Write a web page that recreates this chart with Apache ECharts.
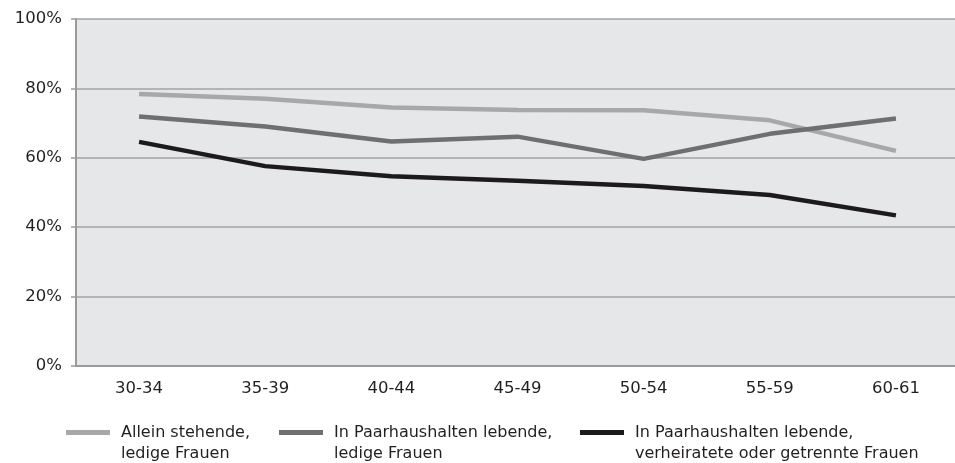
<!DOCTYPE html>
<html>
<head>
<meta charset="utf-8">
<script src="https://cdn.jsdelivr.net/npm/echarts@6/dist/echarts.min.js"></script>
<style>
  html, body { margin: 0; padding: 0; background: #ffffff; }
  #chart { width: 955px; height: 463px; }
</style>
</head>
<body>
<div id="chart"></div>
<script>
// Altersgruppen
const categories = ['30-34', '35-39', '40-44', '45-49', '50-54', '55-59', '60-61'];

// Anteile in Prozent
const alleinStehendLedig = [78.4, 77.0, 74.5, 73.8, 73.7, 70.8, 62.0];
const paarLedig = [71.9, 69.0, 64.7, 66.1, 59.7, 66.9, 71.3];
const paarVerheiratet = [64.6, 57.6, 54.7, 53.4, 51.9, 49.3, 43.4];

const seriesNames = [
  'Allein stehende,\nledige Frauen',
  'In Paarhaushalten lebende,\nledige Frauen',
  'In Paarhaushalten lebende,\nverheiratete oder getrennte Frauen'
];
const seriesData = [alleinStehendLedig, paarLedig, paarVerheiratet];
const seriesColors = ['#a7a8aa', '#6f6f70', '#1d1a1b'];

const yTicks = [0, 20, 40, 60, 80, 100];

const fontFamily = '"DejaVu Sans", "Open Sans", sans-serif';
const textColor = '#231f20';
const chart = echarts.init(document.getElementById('chart'), null, { renderer: 'canvas' });

const legendLefts = [66, 279, 580];

chart.setOption({
  animation: false,
  grid: {
    left: 76, right: -4, top: 19, bottom: 97,
    outerBoundsMode: 'none',
    containLabel: false,
    show: true, backgroundColor: '#e6e7e8', borderWidth: 0
  },
  legend: seriesNames.map((name, i) => ({
    data: [name],
    left: legendLefts[i],
    top: 401,
    padding: 0,
    orient: 'horizontal',
    icon: 'rect',
    itemWidth: 44,
    itemHeight: 5,
    itemGap: 11,
    selectedMode: false,
    // blank leading line keeps the first text line level with the icon
    formatter: n => '\n' + n,
    textStyle: {
      fontFamily, fontSize: 16, color: textColor, lineHeight: 21,
      padding: [0, 0, 0, 6]
    }
  })),
  xAxis: {
    type: 'category',
    data: categories,
    boundaryGap: true,
    axisLine: { show: true, lineStyle: { color: '#9a9a9a', width: 2 } },
    axisTick: { show: false },
    axisLabel: { fontFamily, fontSize: 16.5, color: textColor, margin: 14 },
    splitLine: { show: false }
  },
  yAxis: {
    type: 'value',
    min: yTicks[0],
    max: yTicks[yTicks.length - 1],
    interval: 20,
    axisLine: { show: true, lineStyle: { color: '#9a9a9a', width: 2 } },
    axisTick: { show: true, length: 5, lineStyle: { color: '#9a9a9a', width: 1.5 } },
    axisLabel: { fontFamily, fontSize: 16.5, color: textColor, margin: 14, formatter: v => v + '%' },
    splitLine: { show: true, lineStyle: { color: '#a3a3a3', width: 1.5 } }
  },
  series: seriesNames.map((name, i) => ({
    name,
    type: 'line',
    data: seriesData[i],
    symbol: 'none',
    color: seriesColors[i],
    lineStyle: { width: 4.5, color: seriesColors[i] },
    itemStyle: { color: seriesColors[i] }
  }))
});
</script>
</body>
</html>
